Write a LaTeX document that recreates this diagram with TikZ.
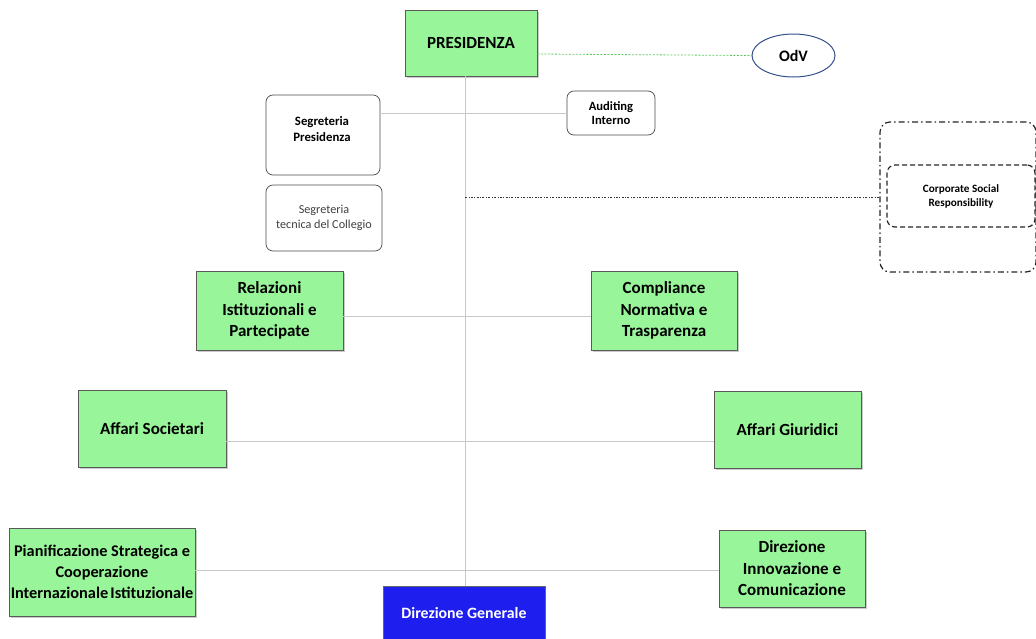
\documentclass[tikz,border=0pt]{standalone}
\usepackage{fontspec}
\setmainfont{Carlito}
\usetikzlibrary{shadows,shapes.geometric}
\definecolor{boxgreen}{HTML}{99F59A}
\definecolor{boxedge}{HTML}{5A5A5A}
\definecolor{linegray}{HTML}{C8C8C8}
\definecolor{dgblue}{HTML}{1E1EEE}
\definecolor{odvblue}{HTML}{34508C}
\definecolor{dotgreen}{HTML}{5CC85C}
\begin{document}
\begin{tikzpicture}[x=1pt,y=-1pt,
  gbox/.style={draw=boxedge,line width=0.9pt,fill=boxgreen,align=center,inner sep=0pt,
     font=\bfseries\fontsize{17}{21.5}\selectfont,
     drop shadow={shadow xshift=2pt,shadow yshift=-2pt,fill=black!35,opacity=0.6}},
  wbox/.style={draw=black!70,line width=0.7pt,fill=white,rounded corners=7pt,align=center,inner sep=2pt},
  conn/.style={draw=linegray,line width=0.8pt}]
\useasboundingbox (0,0) rectangle (1036,638);
\coordinate (vtop) at (465,76);
\coordinate (csrj) at (465,197);
% nodes
\node[gbox,minimum width=132pt,minimum height=66pt] (pres) at (471,43) {PRESIDENZA};
\node[ellipse,draw=odvblue,line width=1pt,fill=white,minimum width=83pt,minimum height=43pt,inner sep=0pt,font=\bfseries\fontsize{16}{18}\selectfont] (odv) at (793.5,55.5) {OdV};
\node[wbox,minimum width=114pt,minimum height=80pt] (segp) at (323,135) {};
\node[align=center,font=\bfseries\fontsize{12.8}{15.7}\selectfont] (segptxt) at (322,129) {Segreteria\\Presidenza};
\node[wbox,minimum width=88pt,minimum height=44pt,font=\bfseries\fontsize{12.6}{14.5}\selectfont] (aud) at (611,113) {Auditing\\Interno};
\node[wbox,minimum width=116pt,minimum height=66pt,text=black!75,font=\fontsize{12.2}{15}\selectfont] (segt) at (324,218) {Segreteria\\tecnica del Collegio};
\node[draw=black!85,line width=1.2pt,dash pattern=on 6pt off 3pt on 1.5pt off 3pt,rounded corners=10pt,minimum width=156pt,minimum height=150pt] (csro) at (958,197) {};
\node[draw=black!85,line width=1.2pt,dash pattern=on 5pt off 3pt,rounded corners=8pt,minimum width=148pt,minimum height=62pt,align=center,font=\bfseries\fontsize{11.2}{14}\selectfont] (csr) at (961,196) {Corporate Social\\Responsibility};
\node[gbox,minimum width=147pt,minimum height=79pt] (rel) at (269.5,310.5) {Relazioni\\Istituzionali e\\Partecipate};
\node[gbox,minimum width=146pt,minimum height=79pt] (comp) at (664,310.5) {Compliance\\Normativa e\\Trasparenza};
\node[gbox,minimum width=148pt,minimum height=77pt] (soc) at (152,428.5) {Affari Societari};
\node[gbox,minimum width=147pt,minimum height=77pt] (giu) at (787.5,429.5) {Affari Giuridici};
\node[gbox,minimum width=186pt,minimum height=88pt,font=\bfseries\fontsize{16.3}{21}\selectfont] (pian) at (102,572) {Pianificazione Strategica e\\Cooperazione\\Internazionale\hspace{-1.5pt} Istituzionale};
\node[gbox,minimum width=146pt,minimum height=77pt] (inn) at (792,568.5) {Direzione\\Innovazione e\\Comunicazione};
\node[draw=black!60,line width=0.8pt,fill=dgblue,text=white,minimum width=162pt,minimum height=70pt,text depth=17pt,font=\bfseries\fontsize{15.8}{18}\selectfont] (dg) at (464,621) {Direzione Generale};
% connectors
\draw[dotgreen,line width=0.8pt,dash pattern=on 2pt off 1.5pt] (pres.east |- 0,54) -- (odv.west);
\draw[conn] (vtop) -- (dg.north -| vtop);
\draw[conn] (segp.east |- 0,113) -- (aud.west);
\draw[black!80,line width=0.7pt,dash pattern=on 2pt off 1.5pt on 0.8pt off 1.5pt] (csrj) -- (csro.west |- csrj);
\draw[conn] (rel.east |- 0,316) -- (comp.west |- 0,316);
\draw[conn] (soc.east |- 0,441) -- (giu.west |- 0,441);
\draw[conn] (pian.east |- 0,570) -- (inn.west |- 0,570);
\end{tikzpicture}
\end{document}
